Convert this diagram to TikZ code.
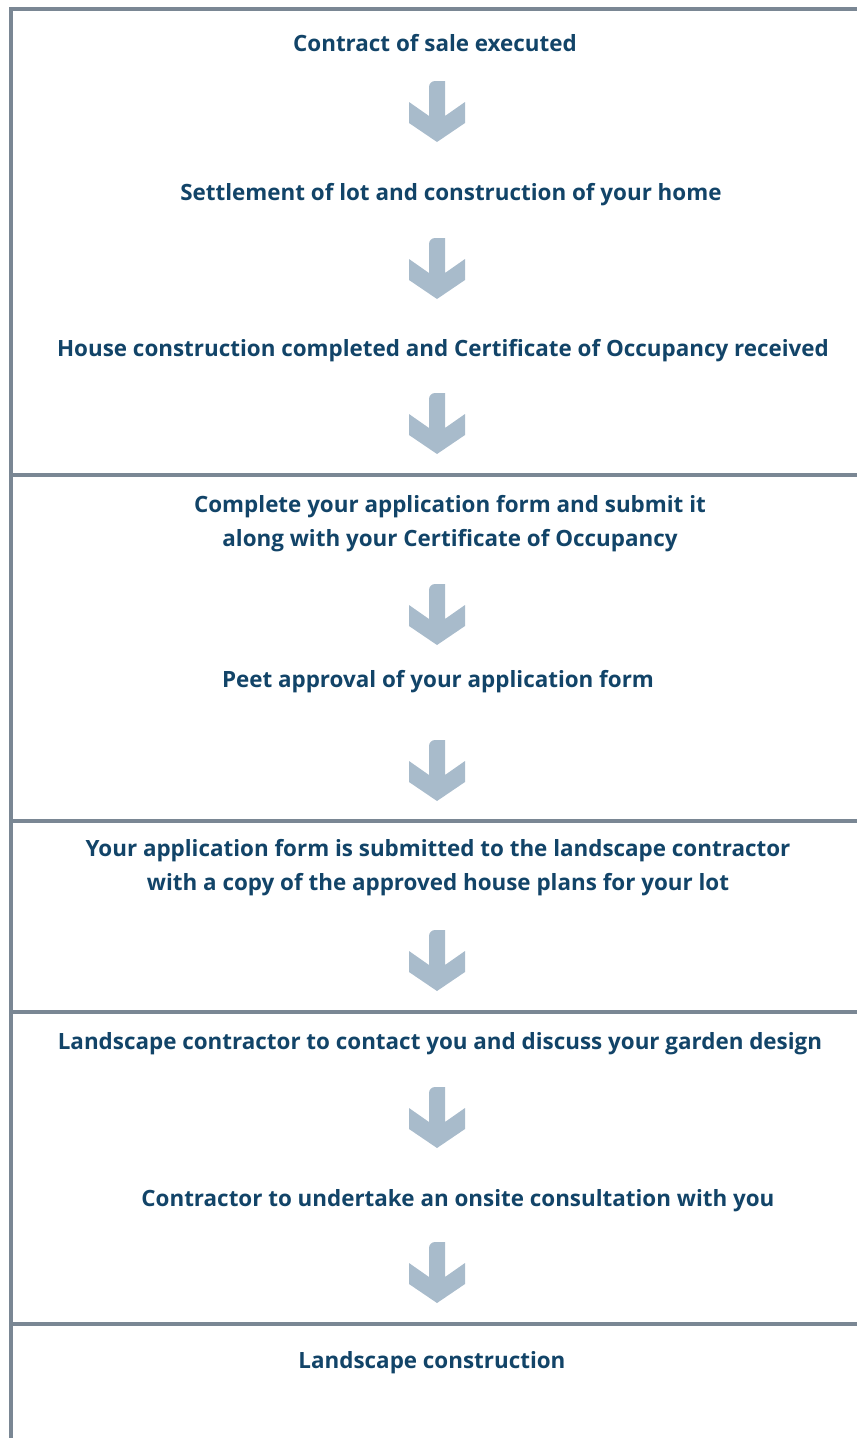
\documentclass[tikz,border=0pt]{standalone}
\usepackage{fontspec}
\setmainfont{Open Sans}

\definecolor{steptext}{HTML}{124468}
\definecolor{rulegray}{HTML}{7A8794}
\definecolor{arrowblue}{HTML}{A8BBCB}

\tikzset{
  steplabel/.style={text=steptext, font=\fontsize{22.4}{34}\selectfont\bfseries,
    align=center, anchor=base, inner sep=0pt},
  rule/.style={draw=rulegray, line width=4pt},
  downarrow/.pic={
    \fill[arrowblue] (-8,35) -- (-8,6) arc[start angle=180, end angle=270, radius=6]
      -- (8,0) -- (8,35) -- (28,21) -- (28,42) -- (0,61) -- (-28,42) -- (-28,21) -- cycle;
  }
}

\begin{document}
\begin{tikzpicture}[x=1pt,y=-1pt]
\useasboundingbox (0,0) rectangle (857,1438);

% frame and dividers
\draw[rule] (11,1438) -- (11,8.5) -- (857,8.5);
\foreach \y in {475,821,1012,1324}
  \draw[rule] (11,\y) -- (857,\y);

% steps
\node[steplabel] (sale) at (435,51) {Contract of sale executed};
\node[steplabel] (settle) at (451,200) {Settlement of lot and construction of your home};
\node[steplabel] (built) at (443,356) {House construction completed and Certificate of Occupancy received};
\node[steplabel] (apply) at (450,546) {Complete your application form and submit it\\along with your Certificate of Occupancy};
\node[steplabel] (approve) at (438,687) {Peet approval of your application form};
\node[steplabel] (submit) at (438,890) {Your application form is submitted to the landscape contractor\\with a copy of the approved house plans for your lot};
\node[steplabel] (contact) at (440,1049) {Landscape contractor to contact you and discuss your garden design};
\node[steplabel] (onsite) at (458,1206) {Contractor to undertake an onsite consultation with you};
\node[steplabel] (build) at (432,1368) {Landscape construction};

% arrows
\foreach \t in {81,238,393,584,740,930,1087,1242}
  \pic at (437,\t) {downarrow};

\end{tikzpicture}
\end{document}
